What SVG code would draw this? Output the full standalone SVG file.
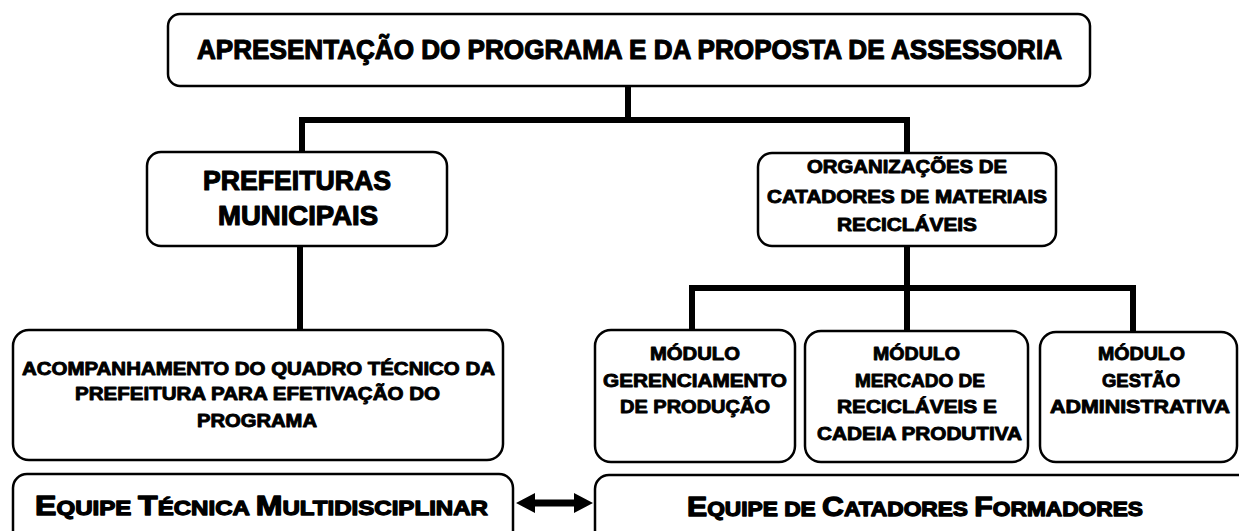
<svg xmlns="http://www.w3.org/2000/svg" width="1239" height="531" viewBox="0 0 1239 531">
<style>
.box{fill:#ffffff;stroke:#000000;stroke-width:2.5}
.t{font-family:"Liberation Sans",Arial,sans-serif;font-weight:bold;fill:#000000;stroke:#000000;stroke-width:0.9;stroke-linejoin:round;text-anchor:middle}
.conn{fill:none;stroke:#000000;stroke-width:6;stroke-linecap:square}
.big{font-size:28px;stroke-width:1.2}
.mid{font-size:18px}
.mod{font-size:18.5px}
.sc{font-size:21px;stroke-width:1.3}
.scB{font-size:28px}
</style>
<rect width="1239" height="531" fill="#ffffff"/>
<g id="connectors">
<path class="conn" d="M628,86 V120 M302,120 H907 M302,120 V151 M907,120 V152"/>
<path class="conn" d="M300,247 V328"/>
<path class="conn" d="M907,247 V329 M692,288 H1133 M692,288 V329 M1133,288 V330"/>
<path d="M516,503 L535,493 L535,499.5 L574,499.5 L574,493 L593,503 L574,513 L574,506.5 L535,506.5 L535,513 Z" fill="#000000"/>
</g>
<g id="node-apresentacao">
<rect class="box" x="168" y="14" width="922" height="72" rx="12"/>
<text class="t big" x="629.5" y="59" textLength="865" lengthAdjust="spacingAndGlyphs">APRESENTAÇÃO DO PROGRAMA E DA PROPOSTA DE ASSESSORIA</text>
</g>
<g id="node-prefeituras">
<rect class="box" x="147" y="152" width="300" height="94" rx="14"/>
<text class="t big" x="297" y="190" textLength="188" lengthAdjust="spacingAndGlyphs">PREFEITURAS</text>
<text class="t big" x="298" y="225" textLength="160" lengthAdjust="spacingAndGlyphs">MUNICIPAIS</text>
</g>
<g id="node-organizacoes">
<rect class="box" x="758" y="153" width="298" height="93" rx="14"/>
<text class="t mid" x="907" y="173" textLength="200" lengthAdjust="spacingAndGlyphs">ORGANIZAÇÕES DE</text>
<text class="t mid" x="907" y="203" textLength="280" lengthAdjust="spacingAndGlyphs">CATADORES DE MATERIAIS</text>
<text class="t mid" x="907" y="231" textLength="140" lengthAdjust="spacingAndGlyphs">RECICLÁVEIS</text>
</g>
<g id="node-acompanhamento">
<rect class="box" x="13" y="330" width="490" height="130" rx="16"/>
<text class="t mid" x="258.5" y="375" textLength="473" lengthAdjust="spacingAndGlyphs">ACOMPANHAMENTO DO QUADRO TÉCNICO DA</text>
<text class="t mid" x="257.5" y="400" textLength="365" lengthAdjust="spacingAndGlyphs">PREFEITURA PARA EFETIVAÇÃO DO</text>
<text class="t mid" x="257" y="427" textLength="120" lengthAdjust="spacingAndGlyphs">PROGRAMA</text>
</g>
<g id="node-modulo-gerenciamento">
<rect class="box" x="595" y="330" width="200" height="132" rx="16"/>
<text class="t mod" x="695" y="360" textLength="90" lengthAdjust="spacingAndGlyphs">MÓDULO</text>
<text class="t mod" x="695" y="387" textLength="184" lengthAdjust="spacingAndGlyphs">GERENCIAMENTO</text>
<text class="t mod" x="695" y="413" textLength="150" lengthAdjust="spacingAndGlyphs">DE PRODUÇÃO</text>
</g>
<g id="node-modulo-mercado">
<rect class="box" x="805" y="331" width="223" height="131" rx="16"/>
<text class="t mod" x="916.5" y="360" textLength="87" lengthAdjust="spacingAndGlyphs">MÓDULO</text>
<text class="t mod" x="920" y="387" textLength="130" lengthAdjust="spacingAndGlyphs">MERCADO DE</text>
<text class="t mod" x="917" y="413" textLength="160" lengthAdjust="spacingAndGlyphs">RECICLÁVEIS E</text>
<text class="t mod" x="919.5" y="440" textLength="205" lengthAdjust="spacingAndGlyphs">CADEIA PRODUTIVA</text>
</g>
<g id="node-modulo-gestao">
<rect class="box" x="1040" y="332" width="197" height="130" rx="16"/>
<text class="t mod" x="1141.5" y="360" textLength="87" lengthAdjust="spacingAndGlyphs">MÓDULO</text>
<text class="t mod" x="1141" y="387" textLength="78" lengthAdjust="spacingAndGlyphs">GESTÃO</text>
<text class="t mod" x="1140" y="413" textLength="180" lengthAdjust="spacingAndGlyphs">ADMINISTRATIVA</text>
</g>
<g id="node-equipe-tecnica">
<rect class="box" x="13" y="474" width="500" height="100" rx="14"/>
<text class="t sc" x="261.5" y="515" textLength="453" lengthAdjust="spacingAndGlyphs"><tspan class="scB">E</tspan>QUIPE <tspan class="scB">T</tspan>ÉCNICA <tspan class="scB">M</tspan>ULTIDISCIPLINAR</text>
</g>
<g id="node-equipe-catadores">
<rect class="box" x="595" y="475" width="700" height="100" rx="14"/>
<text class="t sc" x="915" y="516" textLength="456" lengthAdjust="spacingAndGlyphs"><tspan class="scB">E</tspan>QUIPE DE <tspan class="scB">C</tspan>ATADORES <tspan class="scB">F</tspan>ORMADORES</text>
</g>
</svg>
